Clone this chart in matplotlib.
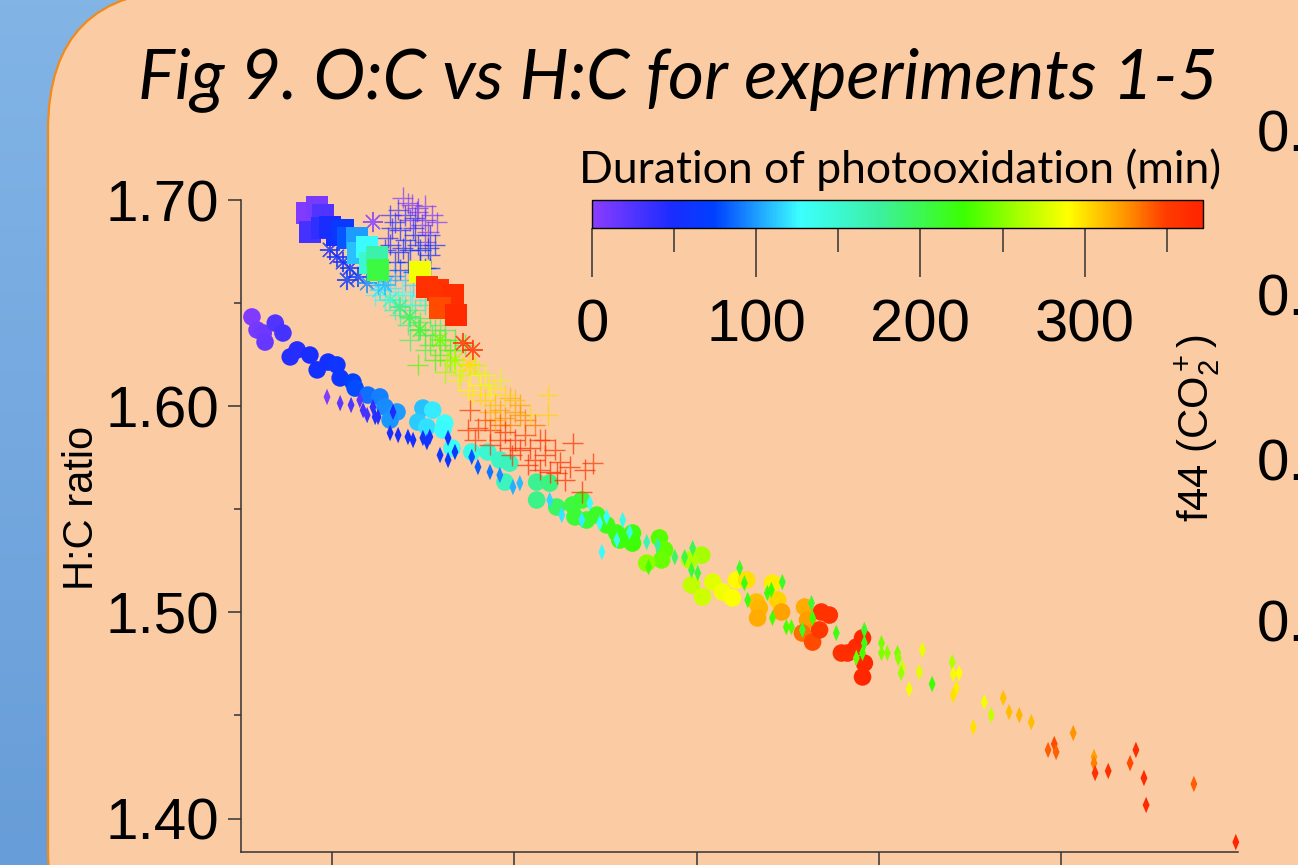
import matplotlib.pyplot as plt
import numpy as np
from matplotlib.colors import LinearSegmentedColormap, Normalize
from matplotlib.cm import ScalarMappable
from matplotlib.patches import FancyBboxPatch

plt.rcParams['mathtext.fontset'] = 'custom'
plt.rcParams['mathtext.rm'] = 'Liberation Sans'
plt.rcParams['mathtext.it'] = 'Liberation Sans:italic'

# ---- datos (O:C, H:C, tiempo en min) ----
# experimento con circulos
circ_oc = [0.2280, 0.2294, 0.2311, 0.2316, 0.2344, 0.2365, 0.2385, 0.2404, 0.2439, 0.2459,
           0.2489, 0.2513, 0.2522, 0.2557, 0.2563, 0.2598, 0.2631, 0.2645, 0.2678, 0.2659,
           0.2749, 0.2735, 0.2776, 0.2760, 0.2809, 0.2804, 0.2829, 0.2883, 0.2927, 0.2960,
           0.2974, 0.2987, 0.3061, 0.3097, 0.3061, 0.3116, 0.3160, 0.3185, 0.3166, 0.3198,
           0.3226, 0.3253, 0.3281, 0.3324, 0.3324, 0.3289, 0.3398, 0.3412, 0.3404, 0.3363,
           0.3514, 0.3481, 0.3486, 0.3516, 0.3544, 0.3571, 0.3598, 0.3609, 0.3637, 0.3664,
           0.3672, 0.3667, 0.3708, 0.3722, 0.3733, 0.3796, 0.3804, 0.3790, 0.3818, 0.3837,
           0.3842, 0.3864, 0.3897, 0.3914, 0.3938, 0.3955, 0.3960, 0.3955]
circ_hc = [1.6433, 1.6370, 1.6355, 1.6311, 1.6403, 1.6355, 1.6239, 1.6273, 1.6248, 1.6176,
           1.6214, 1.6200, 1.6137, 1.6117, 1.6088, 1.6054, 1.6045, 1.5996, 1.5972, 1.5933,
           1.5991, 1.5923, 1.5981, 1.5899, 1.5918, 1.5885, 1.5797, 1.5778, 1.5778, 1.5739,
           1.5632, 1.5724, 1.5632, 1.5627, 1.5545, 1.5511, 1.5521, 1.5545, 1.5463, 1.5448,
           1.5472, 1.5424, 1.5385, 1.5385, 1.5336, 1.5351, 1.5361, 1.5303, 1.5254, 1.5239,
           1.5278, 1.5254, 1.5133, 1.5075, 1.5147, 1.5099, 1.5070, 1.5157, 1.5157, 1.5050,
           1.5021, 1.4973, 1.5142, 1.5060, 1.5002, 1.5026, 1.4963, 1.4900, 1.4856, 1.4915,
           1.5002, 1.4987, 1.4803, 1.4803, 1.4832, 1.4876, 1.4754, 1.4687]
circ_t = [5, 10, 12, 15, 25, 30, 45, 45, 50, 55, 55, 60, 62, 75, 78, 88, 92, 95, 100, 98,
          110, 112, 122, 118, 128, 126, 135, 140, 150, 158, 160, 162, 180, 185, 182, 195,
          205, 208, 210, 212, 215, 218, 220, 222, 224, 222, 235, 238, 240, 250, 260, 262,
          268, 272, 280, 285, 288, 292, 300, 312, 315, 318, 295, 305, 320, 318, 322, 335,
          345, 352, 358, 358, 360, 362, 365, 368, 368, 370]

# experimento con rombos
diam_oc = [0.2486, 0.2522, 0.2552, 0.2576, 0.2585, 0.2596, 0.2612, 0.2618, 0.2626, 0.2667,
           0.2659, 0.2681, 0.2708, 0.2722, 0.2749, 0.2760, 0.2768, 0.2796, 0.2818, 0.2818,
           0.2837, 0.2883, 0.2900, 0.2933, 0.2960, 0.2996, 0.3015, 0.3097, 0.3130, 0.3185,
           0.3207, 0.3234, 0.3253, 0.3297, 0.3316, 0.3281, 0.3240, 0.3363, 0.3393, 0.3368,
           0.3440, 0.3467, 0.3489, 0.3486, 0.3503, 0.3618, 0.3631, 0.3640, 0.3694, 0.3705,
           0.3708, 0.3735, 0.3746, 0.3760, 0.3790, 0.3815, 0.3818, 0.3883, 0.3938, 0.3960,
           0.3955, 0.3960, 0.4007, 0.4007, 0.4023, 0.4051, 0.4053, 0.4064, 0.4061, 0.4119,
           0.4111, 0.4083, 0.4146, 0.4201, 0.4204, 0.4220, 0.4212, 0.4204, 0.4289, 0.4308,
           0.4259, 0.4341, 0.4357, 0.4385, 0.4418, 0.4533, 0.4464, 0.4481, 0.4486, 0.4590,
           0.4590, 0.4593, 0.4629, 0.4689, 0.4705, 0.4727, 0.4733, 0.4864, 0.4979]
diam_hc = [1.6045, 1.6015, 1.6006, 1.6030, 1.5981, 1.5957, 1.5996, 1.5948, 1.5948, 1.5972,
           1.5870, 1.5860, 1.5851, 1.5836, 1.5846, 1.5826, 1.5851, 1.5763, 1.5846, 1.5739,
           1.5778, 1.5754, 1.5705, 1.5681, 1.5666, 1.5608, 1.5627, 1.5545, 1.5472, 1.5448,
           1.5530, 1.5433, 1.5463, 1.5448, 1.5390, 1.5351, 1.5293, 1.5341, 1.5327, 1.5220,
           1.5268, 1.5268, 1.5312, 1.5205, 1.5191, 1.5215, 1.5142, 1.5060, 1.5094, 1.5109,
           1.4973, 1.5147, 1.4929, 1.4929, 1.4915, 1.5045, 1.4973, 1.4900, 1.4779, 1.4915,
           1.4803, 1.4851, 1.4851, 1.4803, 1.4803, 1.4803, 1.4779, 1.4730, 1.4706, 1.4818,
           1.4711, 1.4628, 1.4653, 1.4759, 1.4701, 1.4706, 1.4633, 1.4599, 1.4565, 1.4502,
           1.4444, 1.4585, 1.4517, 1.4502, 1.4468, 1.4415, 1.4333, 1.4362, 1.4323, 1.4299,
           1.4269, 1.4221, 1.4231, 1.4269, 1.4333, 1.4197, 1.4066, 1.4168, 1.3886]
diam_t = [5, 20, 25, 22, 30, 30, 40, 45, 45, 48, 50, 52, 55, 55, 58, 58, 60, 62, 60, 65,
          66, 80, 82, 90, 95, 105, 108, 115, 120, 122, 125, 128, 130, 140, 142, 138, 126,
          165, 175, 230, 195, 205, 200, 210, 212, 215, 218, 222, 225, 228, 230, 215, 232,
          235, 215, 210, 225, 220, 240, 215, 230, 220, 245, 248, 250, 245, 250, 275, 255,
          282, 280, 285, 225, 262, 285, 290, 295, 300, 285, 270, 300, 310, 312, 315, 312,
          325, 340, 345, 340, 320, 330, 360, 360, 345, 362, 365, 365, 340, 368]

# experimento con cuadrados
sq_oc = [0.2431, 0.2459, 0.2439, 0.2475, 0.2472, 0.2494, 0.2513, 0.2530, 0.2544, 0.2568,
         0.2571, 0.2596, 0.2604, 0.2623, 0.2626, 0.2741, 0.2760, 0.2790, 0.2831, 0.2796,
         0.2839]
sq_hc = [1.6937, 1.6966, 1.6845, 1.6927, 1.6864, 1.6869, 1.6830, 1.6855, 1.6816, 1.6816,
         1.6743, 1.6772, 1.6694, 1.6724, 1.6661, 1.6651, 1.6578, 1.6564, 1.6539, 1.6476,
         1.6442]
sq_t = [5, 8, 30, 25, 40, 48, 55, 65, 80, 100, 110, 125, 150, 170, 205, 285, 360, 358,
        362, 345, 365]

# experimento con asteriscos
ast_oc = [0.2612, 0.2494, 0.2513, 0.2530, 0.2549, 0.2571, 0.2541, 0.2596, 0.2631, 0.2659,
          0.2686, 0.2713, 0.2741, 0.2796, 0.2859, 0.2886, 0.2837, 0.2878, 0.2645]
ast_hc = [1.6893, 1.6758, 1.6724, 1.6699, 1.6670, 1.6627, 1.6612, 1.6597, 1.6564, 1.6515,
          1.6481, 1.6433, 1.6370, 1.6321, 1.6306, 1.6273, 1.6224, 1.6200, 1.6588]
ast_t = [5, 50, 55, 58, 62, 70, 65, 95, 120, 150, 185, 200, 210, 240, 355, 360, 260, 300, 110]

# experimento con cruces
cross_oc = [0.2694, 0.2708, 0.2719, 0.2735, 0.2733, 0.2755, 0.2787, 0.2763, 0.2755, 0.2774,
            0.2713, 0.2746,
            0.2672, 0.2686, 0.2653, 0.2700, 0.2727, 0.2713, 0.2681, 0.2741, 0.2672, 0.2708,
            0.2741, 0.2768, 0.2645, 0.2722, 0.2755,
            0.2639, 0.2672, 0.2700, 0.2659, 0.2692, 0.2722, 0.2741, 0.2681, 0.2645,
            0.2700, 0.2727, 0.2755, 0.2713, 0.2741, 0.2768, 0.2686, 0.2782, 0.2755, 0.2796,
            0.2735, 0.2809, 0.2768, 0.2823, 0.2796, 0.2837,
            0.2815, 0.2837, 0.2856, 0.2878, 0.2845, 0.2892, 0.2905, 0.2872, 0.2919, 0.2809,
            0.2933, 0.2960, 0.2946,
            0.2919, 0.2946, 0.2960, 0.2987, 0.2974, 0.3001, 0.2933, 0.3015, 0.2987, 0.3029,
            0.3042, 0.3092, 0.3092, 0.2905,
            0.2878, 0.2872, 0.2933, 0.2960, 0.2974, 0.3001, 0.3015, 0.2993, 0.3042, 0.3056,
            0.3037, 0.3083, 0.3111, 0.3124, 0.3097, 0.3160, 0.3215, 0.3152, 0.3116, 0.3185,
            0.3070, 0.2900,
            0.2659, 0.2681, 0.2700, 0.2727, 0.2755, 0.2768, 0.2782, 0.2664, 0.2694, 0.2735,
            0.2763, 0.2659, 0.2686, 0.2722, 0.2768, 0.2631,
            0.2626, 0.2653, 0.2713, 0.2755, 0.2774, 0.2672, 0.2618, 0.2719, 0.2755,
            0.2672, 0.2708, 0.2735, 0.2774, 0.2809, 0.2796, 0.2837, 0.2755, 0.2782, 0.2713,
            0.2823, 0.2864,
            0.2850, 0.2900, 0.2927, 0.2883, 0.2974, 0.3001, 0.2946, 0.3015, 0.3056, 0.2960,
            0.2919, 0.3029, 0.3083, 0.2933, 0.2987, 0.3070, 0.3138, 0.3193, 0.2892]
cross_hc = [1.7010, 1.6985, 1.6976, 1.6961, 1.6942, 1.6971, 1.6893, 1.6845, 1.6796, 1.6927,
            1.6903, 1.6879,
            1.6893, 1.6855, 1.6816, 1.6806, 1.6830, 1.6758, 1.6748, 1.6758, 1.6699, 1.6699,
            1.6699, 1.6733, 1.6758, 1.6864, 1.6670,
            1.6632, 1.6632, 1.6612, 1.6573, 1.6554, 1.6588, 1.6534, 1.6515, 1.6515,
            1.6491, 1.6467, 1.6491, 1.6428, 1.6408, 1.6428, 1.6442, 1.6370, 1.6345, 1.6394,
            1.6200, 1.6321, 1.6297, 1.6273, 1.6248, 1.6321,
            1.6224, 1.6200, 1.6176, 1.6151, 1.6127, 1.6200, 1.6103, 1.6079, 1.6151, 1.6166,
            1.6054, 1.6127, 1.6088,
            1.6030, 1.6006, 1.5981, 1.6040, 1.5943, 1.5972, 1.5972, 1.6006, 1.5909, 1.5933,
            1.5957, 1.6054, 1.5957, 1.6054,
            1.5981, 1.5885, 1.5885, 1.5836, 1.5875, 1.5836, 1.5788, 1.5763, 1.5797, 1.5739,
            1.5715, 1.5763, 1.5788, 1.5729, 1.5681, 1.5821, 1.5724, 1.5705, 1.5676, 1.5584,
            1.5836, 1.5894,
            1.6927, 1.6952, 1.6927, 1.6913, 1.6903, 1.6830, 1.6782, 1.6864, 1.6767, 1.6782,
            1.6767, 1.6782, 1.6661, 1.6651, 1.6670, 1.6699,
            1.6588, 1.6612, 1.6539, 1.6588, 1.6564, 1.6539, 1.6539, 1.6491, 1.6515,
            1.6467, 1.6394, 1.6370, 1.6345, 1.6370, 1.6297, 1.6273, 1.6273, 1.6224, 1.6321,
            1.6224, 1.6297,
            1.6151, 1.6166, 1.6103, 1.6054, 1.6054, 1.6030, 1.5933, 1.5957, 1.5909, 1.5909,
            1.5933, 1.5860, 1.5836, 1.5812, 1.5797, 1.5691, 1.5642, 1.5691, 1.5836]
cross_t = [5, 8, 5, 10, 12, 6, 8, 10, 12, 10, 15, 14,
           40, 45, 35, 50, 48, 55, 52, 58, 60, 62, 65, 55, 45, 40, 70,
           90, 100, 110, 120, 130, 115, 135, 140, 140,
           160, 175, 180, 185, 195, 200, 170, 205, 210, 200, 230, 215, 218, 225, 230, 215,
           260, 270, 275, 285, 280, 265, 290, 292, 285, 255, 290, 280, 295,
           305, 310, 320, 315, 325, 322, 315, 320, 330, 330, 300, 300, 305, 300,
           355, 358, 360, 362, 365, 365, 368, 362, 370, 365, 370, 368, 366, 368, 370, 365,
           360, 368, 365, 362, 360, 355,
           40, 30, 35, 38, 20, 42, 50, 45, 55, 58, 60, 50, 75, 80, 72, 70,
           100, 105, 125, 120, 130, 135, 125, 145, 150,
           165, 180, 190, 195, 200, 210, 220, 205, 225, 195, 235, 215,
           270, 275, 280, 295, 300, 310, 318, 325, 335, 340, 345, 350, 355, 360, 362, 368,
           370, 365, 358]

y_ticks = [1.40, 1.50, 1.60, 1.70]
y_minor = [1.45, 1.55, 1.65]
x_ticks = [0.25, 0.30, 0.35, 0.40, 0.45]
cb_ticks = [0, 100, 200, 300]
cb_minor = [50, 150, 250, 350]
f44_labels = ['0.20', '0.15', '0.10', '0.05']

# paleta tipo "Rainbow" de Igor
rainbow = LinearSegmentedColormap.from_list('rainbow_igor', [
    (0.00, '#8a3cff'), (0.13, '#1a2cff'), (0.20, '#0040ff'), (0.34, '#3cffff'),
    (0.47, '#3cf0a0'), (0.61, '#3cff00'), (0.70, '#a8ff00'), (0.78, '#ffff00'),
    (0.87, '#ff9a00'), (0.94, '#ff3c00'), (1.00, '#ff2400')])
norm = Normalize(0, 372)

narrow = dict(family='Liberation Sans')

fig = plt.figure(figsize=(12.98, 8.65), dpi=100)

# fondo azul y recuadro naranja redondeado
bg = fig.add_axes([0, 0, 1, 1])
grad = np.linspace(0, 1, 256).reshape(-1, 1)
bg.imshow(grad, extent=(0, 1298, 865, 0), aspect='auto',
          cmap=LinearSegmentedColormap.from_list('bg', ['#82b4e6', '#679dd8']))
bg.add_patch(FancyBboxPatch((48, -10), 1400, 1000, boxstyle='round,pad=0,rounding_size=140',
                            fc='#fbcba3', ec='#ef8b1c', lw=1.6))
bg.set_xlim(0, 1298)
bg.set_ylim(865, 0)
bg.axis('off')

ax = fig.add_axes([241 / 1298, 13 / 865, 997 / 1298, 652 / 865])
ax.patch.set_alpha(0)

ax.scatter(circ_oc, circ_hc, c=circ_t, cmap=rainbow, norm=norm, s=160, marker='o',
           edgecolors='none', clip_on=False)
rombo = [(0, 1), (0.42, 0), (0, -1), (-0.42, 0), (0, 1)]
ax.scatter(diam_oc, diam_hc, c=diam_t, cmap=rainbow, norm=norm, s=140, marker=rombo,
           edgecolors='none', clip_on=False)
ax.scatter(cross_oc, cross_hc, c=cross_t, cmap=rainbow, norm=norm, s=230, marker='+',
           linewidths=1.0, alpha=0.7, clip_on=False)
ax.scatter(ast_oc, ast_hc, c=ast_t, cmap=rainbow, norm=norm, s=190, marker=(8, 2, 0),
           linewidths=0.9, alpha=0.8, clip_on=False)
ax.scatter(sq_oc, sq_hc, c=sq_t, cmap=rainbow, norm=norm, s=250, marker='s',
           edgecolors='none', clip_on=False)

ax.set_xlim(0.225, 0.4985)
ax.set_ylim(1.3838, 1.70)
for side in ['top', 'right']:
    ax.spines[side].set_visible(False)
for side in ['left', 'bottom']:
    ax.spines[side].set_color('#333333')
    ax.spines[side].set_linewidth(1.1)

ax.set_yticks(y_ticks)
ax.set_yticklabels([f'{v:.2f}' for v in y_ticks], fontsize=42, **narrow)
ax.set_yticks(y_minor, minor=True)
ax.set_xticks(x_ticks)
ax.tick_params(which='major', direction='out', length=9.5, width=1.1, color='#333333', pad=6)
ax.tick_params(which='minor', direction='out', length=5, width=1.1, color='#333333')
ax.tick_params(axis='x', labelbottom=False)

# barra de color
cax = fig.add_axes([592 / 1298, 1 - 228 / 865, 611 / 1298, 28 / 865])
cb = fig.colorbar(ScalarMappable(norm=norm, cmap=rainbow), cax=cax, orientation='horizontal')
cb.set_ticks(cb_ticks)
cb.ax.set_xticklabels([str(v) for v in cb_ticks], fontsize=43, **narrow)
cb.ax.set_xticks(cb_minor, minor=True)
cb.ax.tick_params(which='major', length=35, width=1.1, color='#333333', pad=16)
cb.ax.tick_params(which='minor', length=17, width=1.1, color='#333333')
cb.outline.set_linewidth(1.0)

# textos
fig.text(678 / 1298, 1 - 80 / 865, 'Fig 9. O:C vs H:C for experiments 1-5', ha='center',
         va='center', fontsize=50, style='italic', family=['Lato', 'DejaVu Sans'])
fig.text(900 / 1298, 1 - 170 / 865, 'Duration of photooxidation (min)', ha='center',
         va='center', fontsize=32, family=['Lato', 'DejaVu Sans'])
fig.text(82 / 1298, 1 - 508 / 865, 'H:C ratio', rotation=90, ha='center', va='center',
         fontsize=30, family='Liberation Sans')
fig.text(1198 / 1298, 1 - 428 / 865, 'f44 (CO$_2^+$)', rotation=90, ha='center',
         va='center', fontsize=30, family='Liberation Sans')
for lab, py in zip(f44_labels, [136, 301, 466, 627]):
    fig.text(1257 / 1298, 1 - py / 865, lab, ha='left', va='center', fontsize=42, **narrow)

fig.savefig('out.png', dpi=100)
